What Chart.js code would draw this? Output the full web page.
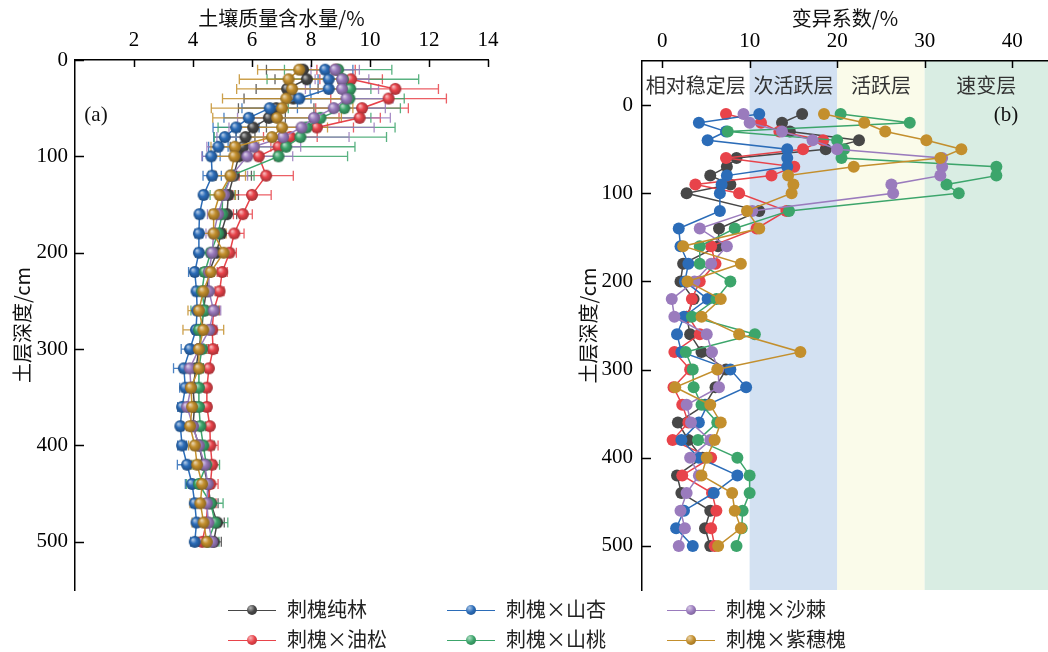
<!DOCTYPE html>
<html>
<head>
<meta charset="utf-8">
<script src="https://cdn.jsdelivr.net/npm/chart.js@4.4.0/dist/chart.umd.min.js"></script>
<style>
  body { margin:0; width:1048px; height:652px; background:#fff; position:relative; overflow:hidden;
         font-family:"Noto Sans CJK SC", sans-serif; }
  #ca { position:absolute; left:0; top:0; }
  #cb { position:absolute; left:520px; top:0; }
  .leg { position:absolute; font-size:20px; color:#222; line-height:24px; white-space:nowrap; }
  .leg i { display:inline-block; width:48px; height:0; border-top:1.5px solid; vertical-align:middle;
           position:relative; margin-right:11px; top:-1px; }
  .leg i b { position:absolute; left:19px; top:-6px; width:10px; height:10px; border-radius:50%; }
</style>
</head>
<body>
<canvas id="ca" width="500" height="600"></canvas>
<canvas id="cb" width="534" height="600"></canvas>
<div id="legend"></div>
<script>
// 深度 (cm)
const depth = [10,20,30,40,50,60,70,80,90,100,120,140,160,180,200,220,240,260,280,300,320,340,360,380,400,420,440,460,480,500];

const names  = ['刺槐纯林','刺槐×油松','刺槐×山杏','刺槐×山桃','刺槐×沙棘','刺槐×紫穗槐'];
const colors = ['#474747','#e8434a','#2b6cb8','#3ca56b','#9a7bbd','#c38f2d'];

// 刻度
const ticksWater = [2, 4, 6, 8, 10, 12, 14];
const ticksCv    = [0, 10, 20, 30, 40];
const ticksDepth = [0, 100, 200, 300, 400, 500];

// 土壤质量含水量 均值 (%)
const wChun = [7.73,7.86,7.19,7.4,6.82,6.57,6.04,5.78,5.7,5.55,5.38,5.2,5.15,4.95,4.8,4.55,4.45,4.35,4.3,4.2,4.1,4.0,4.05,4.0,4.2,4.35,4.5,4.6,4.82,4.7];
const wYou  = [8.85,9.36,10.86,10.63,9.73,9.65,8.2,7.3,6.9,6.23,6.48,6.0,5.69,5.4,5.24,4.99,4.9,4.7,4.65,4.68,4.54,4.47,4.47,4.57,4.59,4.65,4.59,4.5,4.45,4.31];
const wXing = [8.48,8.6,8.6,7.6,6.6,5.89,5.46,5.08,4.86,4.62,4.65,4.36,4.22,4.2,4.2,4.06,4.12,4.14,4.1,3.9,3.69,3.74,3.63,3.57,3.63,3.8,3.97,4.06,4.12,4.06];
const wTao  = [8.92,9.08,9.33,9.3,9.13,8.32,7.85,7.64,7.16,6.9,5.3,5.0,4.99,4.85,4.6,4.4,4.3,4.4,4.2,4.3,4.2,4.2,4.2,4.25,4.35,4.45,4.2,4.6,4.75,4.5];
const wJi   = [8.82,9.05,9.05,9.2,8.77,8.1,7.68,7.05,6.06,5.84,5.3,5.05,4.85,4.7,4.65,4.54,4.54,4.7,4.55,4.2,3.89,3.93,3.8,4.0,4.2,4.4,4.5,4.47,4.52,4.65];
const wZi   = [7.6,7.24,7.36,7.16,7.02,6.85,7.02,6.68,5.42,5.4,5.27,4.9,4.7,4.7,5.04,4.6,4.35,4.2,4.35,4.2,4.2,3.93,3.97,3.9,4.06,4.14,4.31,4.25,4.36,4.47];

// 标准差 (误差线)
const sChun = [1.24,1.08,1.05,1.67,1.28,0.56,0.45,0.32,0.44,0.16,0.60,0.34,0.33,0.12,0.10,0.16,0.12,0.14,0.19,0.31,0.25,0.20,0.07,0.12,0.19,0.07,0.10,0.25,0.24,0.26];
const sYou  = [0.65,1.06,1.46,1.96,1.57,0.70,1.24,0.91,0.26,0.55,0.92,0.65,0.32,0.33,0.23,0.17,0.15,0.20,0.07,0.15,0.06,0.10,0.13,0.05,0.26,0.11,0.26,0.28,0.25,0.26];
const sXing = [0.94,0.36,0.63,0.40,0.94,0.84,0.78,0.38,0.33,0.30,0.31,0.08,0.09,0.13,0.11,0.21,0.10,0.07,0.09,0.30,0.35,0.19,0.15,0.08,0.15,0.33,0.23,0.10,0.07,0.14];
const sTao  = [1.82,2.57,0.70,1.86,1.90,1.71,3.00,2.92,2.33,2.34,0.77,0.42,0.21,0.21,0.36,0.27,0.15,0.47,0.11,0.15,0.15,0.19,0.26,0.17,0.37,0.45,0.42,0.42,0.43,0.38];
const sJi   = [0.82,0.91,1.24,1.58,1.75,2.59,2.46,2.24,1.59,1.54,0.55,0.22,0.36,0.26,0.17,0.05,0.06,0.24,0.26,0.27,0.25,0.11,0.13,0.22,0.13,0.18,0.13,0.09,0.12,0.09];
const sZi   = [1.41,1.67,1.88,2.16,2.40,2.18,1.54,0.96,0.81,0.80,0.51,0.54,0.11,0.42,0.15,0.31,0.20,0.37,0.69,0.26,0.06,0.22,0.27,0.23,0.21,0.19,0.34,0.35,0.39,0.29];

// 变异系数 (%)
const cvChun = [16.0,13.7,14.6,22.5,18.7,8.5,7.4,5.5,7.8,2.8,11.1,6.5,6.4,2.4,2.1,3.6,2.8,3.2,4.5,7.3,6.1,4.9,1.8,3.0,4.6,1.7,2.2,5.5,4.9,5.5];
const cvYou  = [7.3,11.3,13.4,18.4,16.1,7.3,15.1,12.5,3.8,8.8,14.2,10.8,5.6,6.1,4.3,3.4,3.0,4.3,1.4,3.2,1.3,2.3,3.0,1.2,5.6,2.3,5.7,6.2,5.6,6.0];
const cvXing = [11.1,4.2,7.3,5.2,14.3,14.3,14.3,7.4,6.8,6.6,6.6,1.9,2.1,3.0,2.6,5.2,2.5,1.7,2.2,7.8,9.6,5.2,4.2,2.2,4.2,8.6,5.9,2.5,1.6,3.5];
const cvTao  = [20.4,28.3,7.5,20.0,20.8,20.5,38.2,38.2,32.5,33.9,14.5,8.3,4.3,4.3,7.8,6.2,3.4,10.6,2.7,3.5,3.6,4.5,6.3,4.1,8.6,10.0,10.0,9.2,9.1,8.5];
const cvJi   = [9.3,10.0,13.7,17.2,20.0,32.0,32.0,31.8,26.2,26.4,10.3,4.3,7.4,5.6,3.7,1.1,1.4,5.1,5.7,6.4,6.5,2.8,3.3,5.5,3.2,4.2,2.8,2.1,2.6,1.9];
const cvZi   = [18.5,23.1,25.5,30.2,34.2,31.8,21.9,14.4,15.0,14.8,9.7,11.1,2.4,9.0,2.9,6.7,4.5,8.8,15.8,6.3,1.5,5.5,6.7,6.0,5.1,4.5,8.0,8.3,9.0,6.4];

// 变异程度分层
const bandEdges  = [10, 20, 30];
const bandLabels = ['相对稳定层','次活跃层','活跃层','速变层'];
const bandColors = ['rgba(0,0,0,0)','#d3e1f2','#fafbea','#d9ede3'];

const water = [wChun, wYou, wXing, wTao, wJi, wZi];
const sds   = [sChun, sYou, sXing, sTao, sJi, sZi];
const cvs   = [cvChun, cvYou, cvXing, cvTao, cvJi, cvZi];
const drawOrder = [5, 4, 3, 2, 1, 0];

const serif = 'Liberation Serif';
const cjk = 'Noto Sans CJK SC';

function mix(hex, t, to) {
  const n = parseInt(hex.slice(1), 16);
  const c = [n >> 16, (n >> 8) & 255, n & 255].map(v => Math.round(v + (to - v) * t));
  return `rgb(${c[0]},${c[1]},${c[2]})`;
}

// 小球样式的点
function makeBall(color, r) {
  const c = document.createElement('canvas');
  c.width = c.height = r * 2 + 2;
  const g = c.getContext('2d');
  const m = r + 1;
  const grad = g.createRadialGradient(m - r * 0.35, m - r * 0.4, r * 0.1, m, m, r);
  grad.addColorStop(0, mix(color, 0.6, 255));
  grad.addColorStop(0.45, color);
  grad.addColorStop(1, mix(color, 0.3, 0));
  g.fillStyle = grad;
  g.beginPath(); g.arc(m, m, r, 0, Math.PI * 2); g.fill();
  return c;
}

// 向内的刻度线
const inwardTicks = {
  id: 'inwardTicks',
  afterDatasetsDraw(chart) {
    const { ctx, chartArea, scales } = chart;
    ctx.save();
    ctx.strokeStyle = '#000';
    ctx.lineWidth = 1.5;
    scales.x.ticks.forEach(t => {
      const p = Math.round(scales.x.getPixelForValue(t.value)) + 0.5;
      ctx.beginPath(); ctx.moveTo(p, chartArea.top); ctx.lineTo(p, chartArea.top + 7); ctx.stroke();
    });
    scales.y.ticks.forEach(t => {
      const p = Math.round(scales.y.getPixelForValue(t.value)) + 0.5;
      ctx.beginPath(); ctx.moveTo(chartArea.left, p); ctx.lineTo(chartArea.left + 9, p); ctx.stroke();
    });
    ctx.restore();
  }
};

// 误差线
const errorBars = {
  id: 'errorBars',
  beforeDatasetsDraw(chart) {
    const { ctx, scales } = chart;
    ctx.save();
    ctx.lineWidth = 1.3;
    chart.data.datasets.forEach(ds => {
      ctx.strokeStyle = ds.borderColor;
      ctx.globalAlpha = 0.85;
      ds.data.forEach((pt, i) => {
        const sd = ds.sd[i];
        const xl = scales.x.getPixelForValue(pt.x - sd);
        const xr = scales.x.getPixelForValue(pt.x + sd);
        const y = scales.y.getPixelForValue(pt.y);
        ctx.beginPath();
        ctx.moveTo(xl, y); ctx.lineTo(xr, y);
        ctx.moveTo(xl, y - 5); ctx.lineTo(xl, y + 5);
        ctx.moveTo(xr, y - 5); ctx.lineTo(xr, y + 5);
        ctx.stroke();
      });
    });
    ctx.restore();
  }
};

// 分层背景
const bands = {
  id: 'bands',
  beforeDraw(chart) {
    const { ctx, chartArea, scales } = chart;
    const xs = [chartArea.left, ...bandEdges.map(v => scales.x.getPixelForValue(v)), chartArea.right];
    ctx.save();
    for (let i = 0; i < bandLabels.length; i++) {
      ctx.fillStyle = bandColors[i];
      ctx.fillRect(xs[i], chartArea.top, xs[i + 1] - xs[i], chartArea.bottom - chartArea.top);
    }
    ctx.fillStyle = '#333';
    ctx.font = `20px "${cjk}"`;
    ctx.textAlign = 'center';
    ctx.textBaseline = 'middle';
    for (let i = 0; i < bandLabels.length; i++) {
      ctx.fillText(bandLabels[i], (xs[i] + xs[i + 1]) / 2, 85);
    }
    ctx.restore();
  }
};

function panelLabel(text, x) {
  return {
    id: 'panelLabel',
    afterDraw(chart) {
      const ctx = chart.ctx;
      ctx.save();
      ctx.fillStyle = '#111';
      ctx.font = `21px "${serif}"`;
      ctx.textAlign = 'center';
      ctx.textBaseline = 'middle';
      ctx.fillText(text, x, 115);
      ctx.restore();
    }
  };
}

function axes(xOpt, yOpt) {
  const common = {
    grid: { display: true, drawOnChartArea: false, drawTicks: false },
    border: { display: true, color: '#000', width: 1.5 },
  };
  return {
    x: Object.assign({}, common, {
      type: 'linear', position: 'top',
      min: xOpt.min, max: xOpt.max,
      ticks: { padding: 7, color: '#000', font: { family: serif, size: 21 } },
      title: { display: true, text: xOpt.title, color: '#111', font: { family: cjk, size: 20 }, padding: { top: 6, bottom: 0 } },
      afterBuildTicks: s => { s.ticks = xOpt.ticks.map(v => ({ value: v })); },
      afterFit: s => { s.height = xOpt.height; s.paddingLeft = 0; s.paddingRight = 0; }
    }),
    y: Object.assign({}, common, {
      type: 'linear', reverse: true,
      min: yOpt.min, max: yOpt.max,
      ticks: { padding: yOpt.pad, color: '#000', font: { family: serif, size: 21 } },
      title: { display: true, text: '土层深度/cm', color: '#111', font: { family: cjk, size: 20 }, padding: { top: yOpt.tpad, bottom: 0 } },
      afterBuildTicks: s => { s.ticks = ticksDepth.map(v => ({ value: v })); },
      afterFit: s => { s.width = yOpt.width; s.paddingTop = 0; s.paddingBottom = 0; }
    })
  };
}

const dsA = names.map((n, k) => ({
  label: n,
  data: depth.map((d, i) => ({ x: water[k][i], y: d })),
  sd: sds[k],
  borderColor: colors[k],
  borderWidth: 1.5,
  pointStyle: makeBall(colors[k], 6),
  pointRadius: 6,
  order: drawOrder[k],
  showLine: true
}));

new Chart(document.getElementById('ca'), {
  type: 'scatter',
  data: { datasets: dsA },
  options: {
    responsive: false, animation: false, devicePixelRatio: 1,
    layout: { padding: { left: 0, right: 12, top: 0, bottom: 10 } },
    plugins: { legend: { display: false }, tooltip: { enabled: false } },
    scales: axes(
      { min: 0, max: 14, ticks: ticksWater, title: '土壤质量含水量/%', height: 60 },
      { min: 0, max: 550, width: 75, pad: 7, tpad: 10 }
    )
  },
  plugins: [errorBars, inwardTicks, panelLabel('(a)', 96)]
});

const dsB = names.map((n, k) => ({
  label: n,
  data: depth.map((d, i) => ({ x: cvs[k][i], y: d })),
  borderColor: colors[k],
  backgroundColor: colors[k],
  borderWidth: 1.5,
  pointRadius: 6,
  pointBorderWidth: 0,
  order: drawOrder[k],
  showLine: true
}));

new Chart(document.getElementById('cb'), {
  type: 'scatter',
  data: { datasets: dsB },
  options: {
    responsive: false, animation: false, devicePixelRatio: 1,
    layout: { padding: { left: 0, right: 0, top: 0, bottom: 10 } },
    plugins: { legend: { display: false }, tooltip: { enabled: false } },
    scales: axes(
      { min: -2.3, max: 44.1, ticks: ticksCv, title: '变异系数/%', height: 61 },
      { min: -50, max: 550, width: 122, pad: 9, tpad: 56 }
    )
  },
  plugins: [bands, inwardTicks, panelLabel('(b)', 486)]
});

// 图例
const legPos = [[228, 597], [228, 627], [447, 597], [447, 627], [667, 597], [667, 627]];
const legend = document.getElementById('legend');
names.forEach((n, k) => {
  const d = document.createElement('div');
  d.className = 'leg';
  d.style.left = legPos[k][0] + 'px';
  d.style.top = legPos[k][1] + 'px';
  const c = colors[k];
  d.innerHTML = `<i style="border-color:${c}"><b style="background:radial-gradient(circle at 35% 30%, ${mix(c, 0.6, 255)} 0, ${c} 45%, ${mix(c, 0.3, 0)} 100%)"></b></i>${n}`;
  legend.appendChild(d);
});
</script>
</body>
</html>
